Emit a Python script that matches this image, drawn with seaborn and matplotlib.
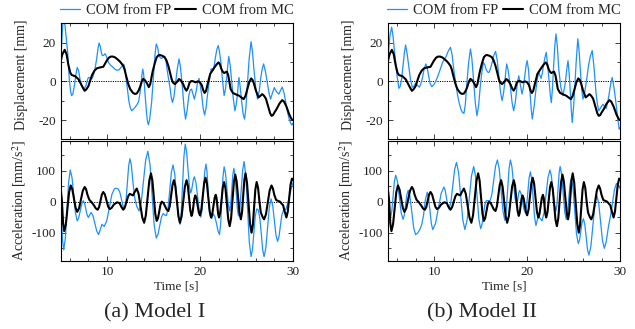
import matplotlib
matplotlib.use("Agg")
import matplotlib.pyplot as plt
from matplotlib.ticker import MultipleLocator
from matplotlib.lines import Line2D
import seaborn as sns

# displacement [mm], COM from MC (same curve in both models)
t_disp_mc = [5.0, 5.2, 5.45, 5.65, 5.85, 6.05, 6.2, 6.6, 6.95, 7.3, 7.6, 7.8, 8.0, 8.2, 8.4,
             8.65, 8.9, 9.25, 9.6, 9.95, 10.2, 10.4, 10.65, 10.9, 11.15, 11.4, 11.6, 11.75,
             11.9, 12.05, 12.3, 12.5, 12.8, 13.0, 13.2, 13.4, 13.55, 13.75, 13.9, 14.1, 14.3,
             14.5, 14.65, 14.9, 15.15, 15.35, 15.55, 15.7, 15.95, 16.2, 16.4, 16.6, 16.8,
             16.95, 17.1, 17.3, 17.5, 17.75, 17.95, 18.2, 18.4, 18.55, 18.7, 18.9, 19.1, 19.3,
             19.5, 19.8, 20.0, 20.2, 20.35, 20.5, 20.65, 20.85, 21.1, 21.45, 21.75, 22.0,
             22.15, 22.3, 22.45, 22.6, 22.75, 22.9, 23.05, 23.3, 23.55, 23.8, 24.2, 24.45,
             24.7, 24.9, 25.1, 25.3, 25.5, 25.65, 25.8, 26.0, 26.3, 26.5, 26.7, 26.9, 27.1,
             27.4, 27.55, 27.7, 27.85, 28.05, 28.25, 28.55, 28.85, 29.05, 29.3, 29.6, 29.85, 30.0]
disp_mc = [10, 14, 16.3, 14, 8.5, 4.5, 3.3, 2.6, 1, -2.3, -4.9, -4, -2.5, 0.5, 3.3,
           5.5, 6.7, 7.2, 7.5, 10.5, 12.2, 12.8, 12.8, 12.3, 11.3, 10.2, 9, 8,
           6, 3, -1.5, -4, -6, -6.5, -6.3, -4.8, -3, 0, 1.3, 0.5, -1,
           -3, -1.5, 4.8, 9.5, 12.5, 13.5, 13.6, 13.2, 12.5, 10.8, 8, 4.2,
           1.2, -0.6, -1.4, -0.5, 1.2, 0.5, -1.5, -3.8, -4.8, -3.5, -0.5, 0.2, 0,
           -0.5, 0, -0.5, -2, -4.5, -6, -5, -1, 3.8, 6.4, 8.5, 9.8,
           8.8, 6.5, 5, 4.3, 4.7, 5, 3, -4, -6, -6.6, -7.4, -8.3,
           -9.2, -7.5, -4, -0.5, 1.5, 0.8, -1, -4.5, -8.3, -7.5, -6.6, -7.5, -9,
           -14, -16.5, -17.8, -17.5, -15.8, -14.3, -11.5, -9.7, -10.5, -13, -17, -19.5, -20]

# displacement [mm], COM from FP, Model I
t_disp_fp1 = [5.0, 5.1, 5.2, 5.3, 5.4, 5.5, 5.65, 5.77, 5.87, 5.95, 6.08, 6.2, 6.33, 6.5, 6.65,
              6.8, 6.95, 7.1, 7.28, 7.45, 7.6, 7.75, 7.88, 8.0, 8.18, 8.35, 8.5, 8.7, 8.9,
              9.05, 9.15, 9.28, 9.4, 9.5, 9.65, 9.8, 9.95, 10.15, 10.4, 10.6, 10.85, 11.05,
              11.3, 11.55, 11.8, 11.93, 12.05, 12.2, 12.35, 12.5, 12.65, 12.82, 13.0, 13.2,
              13.4, 13.55, 13.65, 13.75, 13.85, 13.95, 14.1, 14.25, 14.35, 14.45, 14.58, 14.7,
              14.8, 14.93, 15.05, 15.17, 15.3, 15.45, 15.6, 15.75, 15.9, 16.05, 16.2, 16.35,
              16.5, 16.65, 16.8, 16.92, 17.05, 17.2, 17.35, 17.55, 17.75, 17.9, 18.1, 18.28,
              18.45, 18.62, 18.8, 18.95, 19.1, 19.25, 19.4, 19.58, 19.75, 19.9, 20.05, 20.2,
              20.35, 20.5, 20.65, 20.8, 21.0, 21.2, 21.3, 21.4, 21.52, 21.65, 21.82, 21.97,
              22.1, 22.25, 22.42, 22.6, 22.75, 22.9, 23.0, 23.1, 23.25, 23.4, 23.58, 23.76,
              23.9, 24.05, 24.13, 24.2, 24.32, 24.5, 24.65, 24.8, 24.95, 25.1, 25.3, 25.5,
              25.65, 25.8, 26.0, 26.2, 26.38, 26.55, 26.7, 26.85, 27.05, 27.3, 27.45, 27.6,
              27.8, 28.0, 28.25, 28.5, 28.68, 28.85, 29.05, 29.3, 29.45, 29.6, 29.75, 29.9, 30.0]
disp_fp1 = [10, 17, 26, 33, 32, 28, 21, 15, 7, 1, -5, -7.4, -6.5, -2, 3.5,
            7.2, 5.5, 1, -2.5, -4, -3.5, -2, 0.5, 2, 1.8, 1.2, 2.5, 6, 12,
            17.5, 19.8, 18, 14.8, 13.3, 13.5, 14.3, 12.8, 9.8, 8.3, 7.5, 6.3, 5.8,
            5.9, 7.5, 8.9, 6.5, 2, -4, -10, -13.5, -15.2, -14.5, -13.5, -12.2,
            -10.5, -6, -2, 3, 6.3, 3.5, -7, -16, -20.5, -22.4, -20, -15,
            -11, -2.5, 6, 14, 19.3, 17.5, 13.3, 12, 11.9, 12.5, 12.9, 10.5,
            5, 0.5, -4, -8.5, -10.9, -8, -2, 6, 11.6, 7.5, -2.3, -13,
            -19.5, -15, -7.4, -4.5, -4, -6.5, -9.2, -5.5, -0.5, 1.5, -2.5, -7.4,
            -14, -17.4, -14, -7.4, 0, 6.4, 6.4, 5.5, 7.5, 12, 16.5, 18.5,
            15.5, 9.8, 1, -7.4, -4, 3, 8.5, 12.8, 8.5, 1, -8.5, -15.2,
            -12, -6, -1, 2, -2.5, -11, -17, -19.5, -13.5, -2, 12, 20.5,
            15.5, 6.5, -3, -9.2, -5, 2, 6.5, 9, 5, -2, -6.5, -9.2,
            -6, -3.2, -5.5, -6.6, -4.5, -3, -6, -12.6, -16.5, -19.5, -21.5, -22.6, -21.6]

# displacement [mm], COM from FP, Model II
t_disp_fp2 = [5.0, 5.12, 5.25, 5.43, 5.58, 5.72, 5.86, 6.0, 6.2, 6.35, 6.5, 6.65, 6.8, 6.93, 7.1,
              7.3, 7.45, 7.65, 7.82, 8.0, 8.2, 8.4, 8.55, 8.75, 8.92, 9.1, 9.25, 9.4, 9.55,
              9.75, 10.0, 10.3, 10.6, 10.9, 11.1, 11.3, 11.5, 11.75, 11.92, 12.1, 12.3, 12.5,
              12.68, 12.85, 13.0, 13.2, 13.35, 13.5, 13.7, 13.9, 14.05, 14.25, 14.42, 14.6,
              14.77, 14.95, 15.12, 15.3, 15.45, 15.6, 15.75, 15.9, 16.05, 16.25, 16.42, 16.6,
              16.78, 16.95, 17.12, 17.3, 17.45, 17.6, 17.7, 17.8, 17.95, 18.2, 18.38, 18.55,
              18.72, 18.9, 19.0, 19.1, 19.28, 19.45, 19.6, 19.75, 19.88, 20.0, 20.15, 20.3,
              20.43, 20.55, 20.75, 21.0, 21.12, 21.25, 21.38, 21.5, 21.62, 21.75, 21.9, 22.05,
              22.22, 22.4, 22.5, 22.6, 22.72, 22.85, 22.98, 23.1, 23.25, 23.4, 23.62, 23.85,
              24.1, 24.28, 24.4, 24.52, 24.65, 24.75, 24.85, 25.0, 25.15, 25.3, 25.45, 25.6,
              25.8, 25.9, 26.0, 26.15, 26.3, 26.45, 26.6, 26.8, 27.0, 27.2, 27.4, 27.55, 27.7,
              27.92, 28.15, 28.32, 28.5, 28.7, 28.9, 29.02, 29.15, 29.32, 29.5, 29.7, 29.9, 30.0]
disp_fp2 = [9.8, 17, 24, 28, 23, 16, 9.8, 3, -3.6, -2.5, 1.2, 8, 15, 18.8, 14,
            6.4, 1, -3.1, -2.5, -1, -2, -3, -1.5, 2, 6.5, 9, 7, 3, -1,
            -2.8, -1.5, 1.5, 5.5, 9.8, 11.5, 13, 15.5, 17.6, 14, 6.4, -0.5, -6.6,
            -11, -14, -15.8, -16.6, -12, -2, 9.5, 16.7, 12, 0, -11, -17.8,
            -13, -3, 4.5, 9.8, 8.5, 6, 4.8, 4.6, 6.5, 10, 13.5, 15.5,
            11, 3, -5, -10, -6.5, -0.5, 5, 9, 6, -3, -11, -15.2,
            -11, -3, 0.5, 2.9, -2, -6.6, -3, 3, 8, 10.7, 6, -5,
            -14, -19.5, -13, -2, 2, 4.6, 3, 1.5, 4, 8, 12, 15,
            8, -2, -7.5, -11, -4, 8, 18.5, 24.5, 18, 6.4, -3, -7.4,
            -1, 7, 10.7, 4, -6, -15, -21.3, -13, 0, 12, 22, 15,
            0.5, -5, -9.2, -7, -2.3, 2.5, 8, 13, 15.9, 7, -5.5, -11.5, -15.2,
            -13.5, -11.8, -13, -14, -10, -4, -0.5, 2, -2.5, -9, -17.5, -24.7, -24]

# acceleration [mm/s^2], COM from MC (same curve in both models)
t_acc_mc = [5.0, 5.15, 5.28, 5.4, 5.575, 5.75, 5.925, 6.1, 6.275, 6.45, 6.625, 6.8, 7.0, 7.2,
            7.4, 7.6, 7.75, 7.9, 8.1, 8.35, 8.6, 8.8, 9.0, 9.15, 9.3, 9.45, 9.6, 9.775, 9.95,
            10.125, 10.3, 10.5, 10.75, 11.1, 11.35, 11.55, 11.75, 11.925, 12.1, 12.275, 12.45,
            12.6, 12.8, 13.0, 13.2, 13.4, 13.6, 13.8, 14.0, 14.18, 14.37, 14.55, 14.73,
            14.885, 15.04, 15.195, 15.35, 15.49, 15.63, 15.76, 15.9, 16.075, 16.25, 16.425,
            16.6, 16.75, 16.9, 17.05, 17.2, 17.36, 17.53, 17.69, 17.85, 18.03, 18.2, 18.38,
            18.56, 18.695, 18.83, 18.965, 19.1, 19.2, 19.3, 19.4, 19.5, 19.625, 19.75, 19.875,
            20.0, 20.15, 20.3, 20.45, 20.6, 20.75, 20.9, 21.05, 21.2, 21.325, 21.45, 21.575,
            21.7, 21.79, 21.875, 21.96, 22.05, 22.19, 22.325, 22.46, 22.6, 22.75, 22.9, 23.05,
            23.2, 23.35, 23.5, 23.65, 23.8, 23.95, 24.1, 24.25, 24.4, 24.525, 24.65, 24.775,
            24.9, 25.06, 25.225, 25.39, 25.55, 25.69, 25.825, 25.96, 26.1, 26.25, 26.4, 26.55,
            26.75, 26.9, 27.1, 27.3, 27.5, 27.7, 27.85, 28.0, 28.2, 28.6, 28.95, 29.1, 29.3,
            29.45, 29.6, 29.75, 29.9, 30.0]
acc_mc = [45, 5, -70, -95, -73, -21.5, 30, 52, 39, 9.5, -20, -33, -21, 7,
          35, 47, 40, 22, 6, -2, -12, -22, -26, -17.5, 2.5, 22.5, 31, 23, 3.5,
          -16, -24, -20, -9, -2, -5, -17, -26, -18, -0.5, 17, 25,
          23, 20, 32, 42, 25.5, -13, -51.5, -68, -44, 11.5, 67, 91,
          68, 14.5, -39, -62, -53, -31, -9, 0, -4.5, -15, -25.5,
          -30, -15, 19.5, 54, 69, 48, 0.5, -47, -68, -47, 0.5, 48,
          69, 52, 11.5, -29, -46, -36, -13, 10, 20, 10.5, -12, -34.5,
          -44, -26, 16.5, 59, 77, 58, 13, -32, -51, -40, -14.5, 11,
          22, 11, -14.5, -40, -51, -34, 6, 46, 63, 42, -8, -58,
          -79, -54, 4, 62, 87, 65, 15, -35, -57, -35, 17, 69,
          91, 62, -4.5, -71, -100, -75.5, -18.5, 38.5, 63, 45, 0, -35,
          -50, -57, -41, -2.5, 36, 52, 42, 22, 5, 0, -12, -30, -51,
          -32, 11.5, 55, 74, 70]

# acceleration [mm/s^2], COM from FP, Model I
t_acc_fp1 = [5.0, 5.1, 5.22, 5.35, 5.525, 5.7, 5.875, 6.05, 6.24, 6.425, 6.61, 6.8, 6.96, 7.125,
             7.29, 7.45, 7.59, 7.725, 7.86, 8.0, 8.15, 8.3, 8.5, 8.7, 8.9, 9.1, 9.28, 9.45,
             9.58, 9.7, 9.975, 10.25, 10.525, 10.8, 11.0, 11.2, 11.375, 11.55, 11.725, 11.9,
             12.04, 12.185, 12.33, 12.47, 12.62, 12.8, 13.0, 13.2, 13.45, 13.69, 13.925, 14.16,
             14.4, 14.625, 14.85, 15.075, 15.3, 15.49, 15.675, 15.86, 16.05, 16.22, 16.4,
             16.575, 16.75, 16.925, 17.1, 17.29, 17.475, 17.66, 17.85, 17.99, 18.135, 18.28,
             18.42, 18.565, 18.71, 18.855, 19.0, 19.1, 19.2, 19.3, 19.4, 19.575, 19.75, 19.925,
             20.1, 20.24, 20.375, 20.51, 20.65, 20.76, 20.875, 20.99, 21.1, 21.25, 21.45, 21.6,
             21.78, 21.95, 22.1, 22.225, 22.35, 22.475, 22.6, 22.75, 22.9, 23.05, 23.2, 23.31,
             23.425, 23.54, 23.65, 23.775, 23.9, 24.025, 24.15, 24.3, 24.45, 24.6, 24.75,
             24.94, 25.125, 25.31, 25.5, 25.65, 25.8, 25.95, 26.1, 26.25, 26.3, 26.45, 26.6,
             26.75, 26.9, 27.09, 27.275, 27.46, 27.65, 27.825, 28.0, 28.175, 28.35, 28.5,
             28.65, 28.8, 28.95, 29.1, 29.25, 29.45, 29.65, 29.85, 30.0]
acc_fp1 = [0, -45, -125, -155, -116, -26.5, 63, 102, 77, 20, -37, -62, -52, -29.5,
           -7, 3, -5, -24, -43, -51, -42, -35, -46, -70.5, -95, -106, -90, -73,
           -77, -80, -62, -19.5, 23, 41, 43, 41, 31, 8.5, -14, -24,
           0, 57, 114, 138, 118, 60, 10, -15, -30, -1, 66, 133,
           162, 120, 22.5, -75, -117, -105, -77.5, -50, -38, -43, -45,
           -20.5, 36.5, 93.5, 118, 89, 22.5, -44, -73, -34, 56, 146,
           185, 161, 106.5, 52, 28, 36, 54, 72, 80, 60.5, 15, -30.5,
           -50, -24, 35.5, 95, 121, 96, 37.5, -21, -46, -55, -40, -48,
           -70, -95, -106, -73, 3, 79, 112, 91, 41, -9, -30, -9.5,
           38.5, 86.5, 107, 84, 30.5, -23, -46, -20, 41.5, 103, 129,
           83, -24, -131, -177, -154, -100.5, -47, -24, -25, -30, -55, -103,
           -155, -177, -149, -84, -19, 9, -11.5, -59.5, -107.5, -128, -113,
           -79, -45, -30, -25, -25, -5, 20, 45, 60]

# acceleration [mm/s^2], COM from FP, Model II
t_acc_fp2 = [5.0, 5.1, 5.2, 5.3, 5.44, 5.58, 5.72, 5.86, 6.06, 6.255, 6.45, 6.65, 6.79, 6.925,
             7.06, 7.2, 7.4, 7.6, 7.8, 8.0, 8.2, 8.45, 8.65, 8.85, 9.05, 9.25, 9.4, 9.55, 9.7,
             9.85, 10.15, 10.45, 10.75, 11.05, 11.19, 11.325, 11.46, 11.6, 11.8, 12.0, 12.2,
             12.4, 12.625, 12.85, 13.075, 13.3, 13.54, 13.775, 14.01, 14.25, 14.44, 14.625,
             14.81, 15.0, 15.15, 15.3, 15.45, 15.6, 15.8, 16.0, 16.2, 16.4, 16.6, 16.8, 17.0,
             17.2, 17.4, 17.6, 17.75, 17.9, 18.05, 18.2, 18.36, 18.525, 18.69, 18.85, 18.94,
             19.03, 19.11, 19.2, 19.35, 19.5, 19.65, 19.8, 19.94, 20.075, 20.21, 20.35, 20.5,
             20.65, 20.8, 20.95, 21.1, 21.25, 21.42, 21.6, 21.81, 22.025, 22.24, 22.45, 22.61,
             22.775, 22.94, 23.1, 23.21, 23.325, 23.44, 23.55, 23.71, 23.875, 24.04, 24.2,
             24.34, 24.475, 24.61, 24.75, 24.94, 25.125, 25.31, 25.5, 25.64, 25.78, 25.91,
             26.05, 26.2, 26.35, 26.5, 26.65, 26.86, 27.075, 27.29, 27.5, 27.7, 27.9, 28.1,
             28.3, 28.5, 28.75, 29.0, 29.2, 29.4, 29.6, 29.8, 30.0]
acc_fp2 = [10, -10, -40, -51, -31, 17, 65, 85, 64, 14, -36, -57, -43, -10.5,
           22, 36, 15, -35, -85, -106, -102, -90, -75, -45, 5, 30, 12, -30, -72,
           -90, -69.5, -21.5, 26.5, 47, 36, 11.5, -13, -24, -1.5, 51, 103.5,
           126, 94, 18, -57.5, -90, -59.5, 11.5, 82.5, 113, 83, 13,
           -57, -87, -73, -42, -10, 3, 3, 2, 22, 68, 114, 134, 105,
           37, -31, -60, -31, 37, 105, 134, 112, 62, 12, -10, -3,
           13, 29, 36, 25, 0.5, -24, -35, -15, 30.5, 76, 96, 70,
           9.5, -51, -77, -58, -48, -55, -62, -37, 20, 77, 102, 82,
           36, -10, -30, -8.5, 41.5, 91.5, 113, 87.5, 28, -31.5, -57,
           -37, 8.5, 54, 74, 43, -30.5, -104, -135, -123, -95, -67,
           -55, -73, -113, -155, -172, -143, -76, -9, 20, -5.5, -65, -124.5,
           -150, -130, -80, -40, 0, 40, 58, 55, 42]

sns.set_style("ticks")
plt.rcParams['font.family'] = ['Liberation Serif', 'DejaVu Serif']
plt.rcParams['mathtext.fontset'] = 'stix'
plt.rcParams['axes.unicode_minus'] = False

blue = '#1e90ff'
fig = plt.figure(figsize=(6.35, 3.29), dpi=100)


def style_axis(ax, ylim, major, minor):
    ax.set_xlim(5, 30)
    ax.set_ylim(*ylim)
    ax.xaxis.set_major_locator(MultipleLocator(10))
    ax.xaxis.set_minor_locator(MultipleLocator(2))
    ax.yaxis.set_major_locator(MultipleLocator(major))
    ax.yaxis.set_minor_locator(MultipleLocator(minor))
    ax.tick_params(which='both', direction='in', top=True, right=True,
                   labelsize=9.5, width=0.6, colors='#222222')
    ax.tick_params(which='major', length=3.5)
    ax.tick_params(which='minor', length=2)
    for s in ax.spines.values():
        s.set_linewidth(0.8)
        s.set_color('black')
    ax.axhline(0, color='black', ls=(0, (1.2, 1.2)), lw=0.7, zorder=1)


columns = [
    (60.5, t_disp_fp1, disp_fp1, t_acc_fp1, acc_fp1, '(a) Model I', 155),
    (387.7, t_disp_fp2, disp_fp2, t_acc_fp2, acc_fp2, '(b) Model II', 482),
]

for x0, td, dfp, ta, afp, caption, cx in columns:
    left = x0 / 635
    width = 232.4 / 635
    ax_d = fig.add_axes([left, 1 - 139.4 / 329, width, 116.1 / 329])
    ax_a = fig.add_axes([left, 1 - 260.7 / 329, width, 119.7 / 329])

    sns.lineplot(x=td, y=dfp, ax=ax_d, color=blue, lw=0.9, zorder=2)
    sns.lineplot(x=t_disp_mc, y=disp_mc, ax=ax_d, color='black', lw=1.5, zorder=3)
    style_axis(ax_d, (-30, 30), 20, 10)
    ax_d.set_xticklabels([])
    ax_d.set_xlabel('')
    ax_d.set_ylabel('Displacement [mm]', fontsize=10)
    ax_d.yaxis.set_label_coords(-0.14, 0.56)

    sns.lineplot(x=ta, y=afp, ax=ax_a, color=blue, lw=0.9, zorder=2)
    sns.lineplot(x=t_acc_mc, y=acc_mc, ax=ax_a, color='black', lw=1.5, zorder=3)
    style_axis(ax_a, (-190, 195), 100, 50)
    ax_a.set_xlabel('Time [s]', fontsize=9.5, labelpad=2)
    ax_a.set_ylabel('Acceleration [mm/s$^2$]', fontsize=10)
    ax_a.yaxis.set_label_coords(-0.14, 0.5)

    handles = [Line2D([], [], color=blue, lw=0.9), Line2D([], [], color='black', lw=1.5)]
    fig.legend(handles, ['COM from FP', 'COM from MC'], loc='center',
               bbox_to_anchor=((x0 + 116) / 635, 1 - 10 / 329), ncol=2, frameon=False,
               fontsize=10.5, handlelength=1.4, handletextpad=0.4, columnspacing=0.3,
               borderaxespad=0, borderpad=0)

    fig.text(cx / 635, 1 - 313 / 329, caption, ha='center', va='center', fontsize=16)

fig.savefig('out.png', dpi=100)
